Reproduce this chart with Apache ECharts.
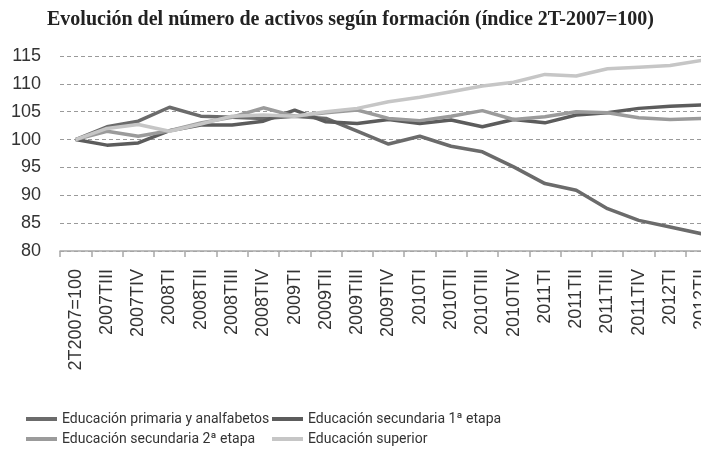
<!DOCTYPE html>
<html>
<head>
<meta charset="utf-8">
<title>Evolución del número de activos según formación</title>
<script src="https://cdn.jsdelivr.net/npm/echarts@6/dist/echarts.min.js"></script>
<style>
  html, body { margin: 0; padding: 0; background: #fff; }
  #chart { width: 701px; height: 466px; }
</style>
</head>
<body>
<div id="chart"></div>
<script>
// trimestres (eje X)
var categories = ['2T2007=100', '2007TIII', '2007TIV', '2008TI', '2008TII', '2008TIII', '2008TIV',
  '2009TI', '2009TII', '2009TIII', '2009TIV', '2010TI', '2010TII', '2010TIII', '2010TIV',
  '2011TI', '2011TII', '2011TIII', '2011TIV', '2012TI', '2012TII'];

var seriesNames = ['Educación primaria y analfabetos', 'Educación secundaria 1ª etapa',
  'Educación secundaria 2ª etapa', 'Educación superior'];

// valores (índice 2T-2007=100)
var primaria = [100, 102.3, 103.3, 105.8, 104.2, 104.0, 103.8, 104.2, 103.8, 101.5, 99.2,
  100.6, 98.8, 97.8, 95.1, 92.1, 90.9, 87.6, 85.5, 84.3, 83.1];
var secundaria1 = [100, 99.0, 99.4, 101.6, 102.6, 102.6, 103.3, 105.3, 103.2, 102.9, 103.6,
  102.9, 103.5, 102.3, 103.6, 103.0, 104.4, 104.8, 105.6, 106.0, 106.2];
var secundaria2 = [100, 101.5, 100.6, 101.6, 103.0, 104.0, 105.7, 104.2, 104.8, 105.3, 103.8,
  103.4, 104.2, 105.2, 103.6, 104.1, 105.0, 104.8, 103.9, 103.6, 103.8];
var superior = [100, 102.0, 102.7, 101.5, 102.8, 104.2, 104.4, 104.2, 105.0, 105.6, 106.8,
  107.6, 108.6, 109.6, 110.3, 111.7, 111.4, 112.7, 113.0, 113.3, 114.2];

var yTicks = [80, 85, 90, 95, 100, 105, 110, 115];

var colors = ['#6b6b6b', '#5c5c5c', '#9b9b9b', '#c6c6c6'];

var chart = echarts.init(document.getElementById('chart'));

function makeLegend(name, left, top) {
  return {
    data: [{ name: name, icon: 'rect' }],
    left: left,
    top: top,
    itemWidth: 31,
    itemHeight: 4,
    selectedMode: false,
    textStyle: {
      fontFamily: 'Roboto, sans-serif',
      fontSize: 14,
      color: '#333'
    }
  };
}

function makeSeries(name, data, color) {
  return {
    name: name,
    type: 'line',
    data: data,
    showSymbol: false,
    symbol: 'none',
    silent: true,
    lineStyle: { color: color, width: 3.5 },
    itemStyle: { color: color }
  };
}

var option = {
  animation: false,
  backgroundColor: '#fff',
  title: {
    text: 'Evolución del número de activos según formación (índice 2T-2007=100)',
    left: 'center',
    top: 5,
    textStyle: {
      fontFamily: 'Liberation Serif, serif',
      fontWeight: 'bold',
      fontSize: 20,
      color: '#222'
    }
  },
  legend: [
    makeLegend(seriesNames[0], 21, 407),
    makeLegend(seriesNames[1], 267, 407),
    makeLegend(seriesNames[2], 21, 427),
    makeLegend(seriesNames[3], 267, 427)
  ],
  grid: {
    left: 60,
    top: 56,
    width: 657,
    height: 195,
    outerBoundsMode: 'none',
    containLabel: false
  },
  xAxis: {
    type: 'category',
    data: categories,
    boundaryGap: true,
    axisLine: { lineStyle: { color: '#a8a8a8', width: 1.5 } },
    axisTick: { show: true, length: 6, lineStyle: { color: '#a8a8a8', width: 1.5 } },
    axisLabel: {
      interval: 0,
      rotate: 90,
      margin: 18,
      fontFamily: 'Liberation Sans, sans-serif',
      fontSize: 18,
      color: '#333'
    },
    splitLine: { show: false }
  },
  yAxis: {
    type: 'value',
    min: yTicks[0],
    max: yTicks[yTicks.length - 1],
    interval: 5,
    axisLine: { show: false },
    axisTick: { show: false },
    axisLabel: {
      margin: 19,
      fontFamily: 'Liberation Sans, sans-serif',
      fontSize: 18,
      color: '#333'
    },
    splitLine: {
      show: true,
      lineStyle: { color: '#9a9a9a', type: [4, 3], width: 1 }
    }
  },
  series: [
    makeSeries(seriesNames[0], primaria, colors[0]),
    makeSeries(seriesNames[1], secundaria1, colors[1]),
    makeSeries(seriesNames[2], secundaria2, colors[2]),
    makeSeries(seriesNames[3], superior, colors[3])
  ]
};

chart.setOption(option);
</script>
</body>
</html>
